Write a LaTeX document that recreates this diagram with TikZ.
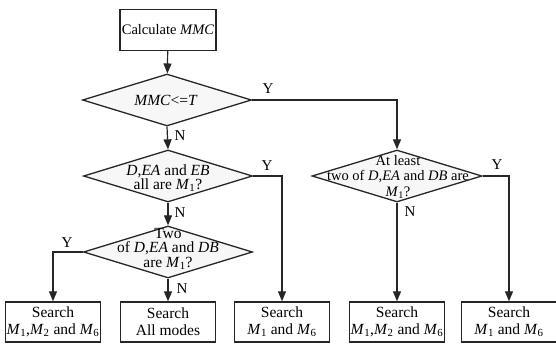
\documentclass[tikz,border=0pt]{standalone}
\usepackage{fontspec}
\setmainfont{Liberation Serif}
\usepackage{tikz}
\usetikzlibrary{arrows.meta}
\usetikzlibrary{shapes.geometric}

\newcommand{\Mi}[1]{\textit{M}\textsubscript{#1}}

\tikzset{
  process/.style={draw=black!85, line width=1.4pt, minimum width=95pt, minimum height=40pt,
    inner sep=0pt, align=center, font=\fontsize{15.5}{17}\selectfont},
  decision/.style={diamond, draw=black!85, line width=1.3pt, fill=black!3, inner sep=0pt,
    minimum width=169pt, minimum height=52pt},
  dtext/.style={align=center, inner sep=0pt, font=\fontsize{15.5}{14.5}\selectfont},
  flowline/.style={line width=1.2pt, draw=black!85, -{Triangle[length=10pt,width=8pt]}},
  lbl/.style={inner sep=0pt, font=\fontsize{15}{15}\selectfont}
}

\begin{document}
\begin{tikzpicture}[x=1pt, y=-1pt]
                \useasboundingbox (0,0) rectangle (556,345);
                % start and first test
                \node[process, minimum width=96pt, minimum height=41pt,
                      font=\fontsize{14.5}{17}\selectfont] (start) at (168,30) {Calculate \textit{MMC}};
                \node[decision] (d1) at (167,100) {};
                \node[dtext] (d1txt) at (166,100) {\textit{MMC}<=\textit{T}};
                % left branch tests
                \node[decision] (d2) at (168,176) {};
                \node[dtext] (d2txt) at (168,178) {\textit{D},\textit{EA} and \textit{EB}\\ all are \Mi{1}?};
                \node[decision] (d3) at (168,252) {};
                \node[dtext] (d3txt) at (168,249) {Two\\ of \textit{D},\textit{EA} and \textit{DB}\\ are \Mi{1}?};
                % right branch test
                \node[decision, minimum width=170pt] (d4) at (397,176) {};
                \node[dtext, font=\fontsize{14.5}{15.5}\selectfont] (d4txt) at (398,177)
                     {At least\\ two of \textit{D},\textit{EA} and \textit{DB} are\\ \Mi{1}?};
                % search boxes
                \node[process] (b1) at (53,322) {Search\\ \Mi{1},\Mi{2} and \Mi{6}};
                \node[process] (b2) at (168,322) {Search\\ All modes};
                \node[process] (b3) at (282,322) {Search\\ \Mi{1} and \Mi{6}};
                \node[process] (b4) at (397,322) {Search\\ \Mi{1},\Mi{2} and \Mi{6}};
                \node[process] (b5) at (509,322) {Search\\ \Mi{1} and \Mi{6}};
                % connectors
                \draw[flowline] (start) -- (d1);
                \draw[flowline] (d1.south) -- (d2.north);
                \draw[flowline] (d2.south) -- (d3.north);
                \draw[flowline] (d3.south) -- (b2.north);
                \draw[flowline] (d4.south) -- (b4.north);
                \draw[flowline] (d1.east) -| (d4.north);
                \draw[flowline] (d2.east) -| (b3.north);
                \draw[flowline] (d3.west) -| (b1.north);
                \draw[flowline] (d4.east) -| (b5.north);
                % Y and N labels
                \node[lbl] (y1) at (268,89) {Y};
                \node[lbl] (n1) at (180,136) {N};
                \node[lbl] (y2) at (267,166) {Y};
                \node[lbl] (n2) at (180,213) {N};
                \node[lbl] (y3) at (67,243) {Y};
                \node[lbl] (n3) at (182,289) {N};
                \node[lbl] (y4) at (497,165) {Y};
                \node[lbl] (n4) at (410,212) {N};
            \end{tikzpicture}
\end{document}
